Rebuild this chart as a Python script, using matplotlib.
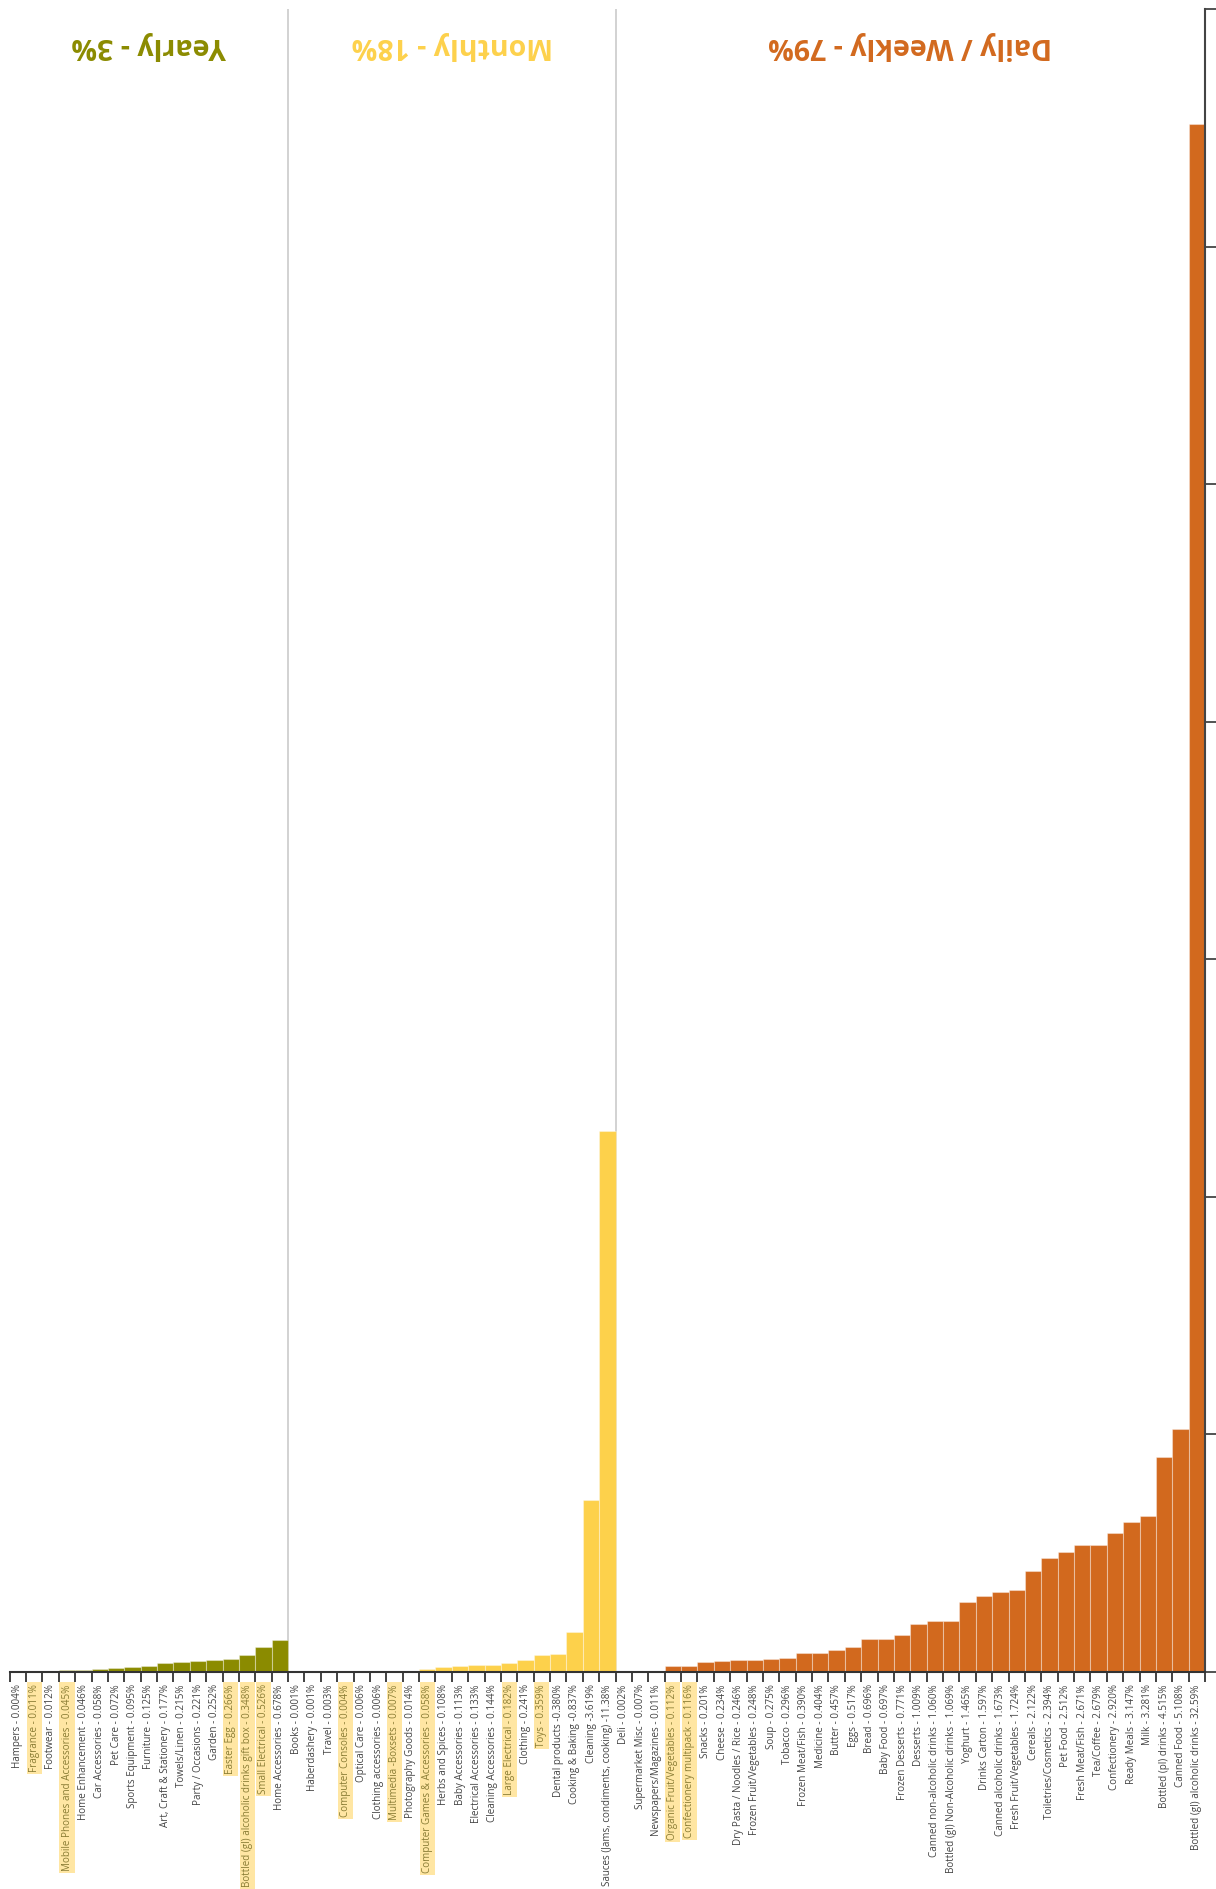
import matplotlib.pyplot as plt
import numpy as np

plt.rcParams['font.family'] = ['Open Sans', 'DejaVu Sans']

# data (share of spend, %)
yearly_names = ['Hampers', 'Fragrance', 'Footwear', 'Mobile Phones and Accessories',
                'Home Enhancement', 'Car Accessories', 'Pet Care', 'Sports Equipment',
                'Furniture', 'Art, Craft & Stationery', 'Towels/Linen', 'Party / Occasions',
                'Garden', 'Easter Egg', 'Bottled (gl) alcoholic drinks gift box',
                'Small Electrical', 'Home Accessories']
yearly_vals = [0.004, 0.011, 0.012, 0.045, 0.046, 0.058, 0.072, 0.095, 0.125, 0.177,
               0.215, 0.221, 0.252, 0.266, 0.348, 0.526, 0.678]
yearly_lbl = ['0.004%', '0.011%', '0.012%', '0.045%', '0.046%', '0.058%', '0.072%', '0.095%',
              '0.125%', '0.177%', '0.215%', '0.221%', '0.252%', '0.266%', '0.348%', '0.526%',
              '0.678%']

monthly_names = ['Books', 'Haberdashery', 'Travel', 'Computer Consoles', 'Optical Care',
                 'Clothing accessories', 'Multimedia -Boxsets', 'Photography Goods',
                 'Computer Games & Accessories', 'Herbs and Spices', 'Baby Accessories',
                 'Electrical Accessories', 'Cleaning Accessories', 'Large Electrical',
                 'Clothing', 'Toys', 'Dental products', 'Cooking & Baking', 'Cleaning',
                 'Sauces (Jams, condiments, cooking)']
monthly_vals = [0.001, 0.001, 0.003, 0.004, 0.006, 0.006, 0.007, 0.014, 0.058, 0.108,
                0.113, 0.133, 0.144, 0.182, 0.241, 0.359, 0.380, 0.837, 3.619, 11.38]
monthly_lbl = ['0.001%', '0.001%', '0.003%', '0.004%', '0.006%', '0.006%', '0.007%',
               '0.014%', '0.058%', '0.108%', '0.113%', '0.133%', '0.144%', '0.182%',
               '0.241%', '0.359%', '0.380%', '0.837%', '3.619%', '11.38%']
monthly_sep = [' - '] * 16 + [' -', ' -', ' -', ' -']

daily_names = ['Deli', 'Supermarket Misc', 'Newspapers/Magazines', 'Organic Fruit/Vegetables',
               'Confectionery multipack', 'Snacks', 'Cheese', 'Dry Pasta / Noodles / Rice',
               'Frozen Fruit/Vegetables', 'Soup', 'Tobacco', 'Frozen Meat/Fish', 'Medicine',
               'Butter', 'Eggs', 'Bread', 'Baby Food', 'Frozen Desserts', 'Desserts',
               'Canned non-alcoholic drinks', 'Bottled (gl) Non-Alcoholic drinks', 'Yoghurt',
               'Drinks Carton', 'Canned alcoholic drinks', 'Fresh Fruit/Vegetables', 'Cereals',
               'Toiletries/Cosmetics', 'Pet Food', 'Fresh Meat/Fish', 'Tea/Coffee',
               'Confectionery', 'Ready Meals', 'Milk', 'Bottled (pl) drinks', 'Canned Food',
               'Bottled (gl) alcoholic drinks']
daily_vals = [0.002, 0.007, 0.011, 0.112, 0.116, 0.201, 0.234, 0.246, 0.248, 0.275, 0.296,
              0.390, 0.404, 0.457, 0.517, 0.696, 0.697, 0.771, 1.009, 1.060, 1.069, 1.465,
              1.597, 1.673, 1.724, 2.122, 2.394, 2.512, 2.671, 2.679, 2.920, 3.147, 3.281,
              4.515, 5.108, 32.59]
daily_lbl = ['0.002%', '0.007%', '0.011%', '0.112%', '0.116%', '0.201%', '0.234%', '0.246%',
             '0.248%', '0.275%', '0.296%', '0.390%', '0.404%', '0.457%', '0.517%', '0.696%',
             '0.697%', '0.771%', '1.009%', '1.060%', '1.069%', '1.465%', '1.597%', '1.673%',
             '1.724%', '2.122%', '2.394%', '2.512%', '2.671%', '2.679%', '2.920%', '3.147%',
             '3.281%', '4.515%', '5.108%', '32.59%']

highlighted = ['Fragrance', 'Mobile Phones and Accessories', 'Easter Egg',
               'Bottled (gl) alcoholic drinks gift box', 'Small Electrical',
               'Computer Consoles', 'Multimedia -Boxsets', 'Computer Games & Accessories',
               'Large Electrical', 'Toys', 'Organic Fruit/Vegetables', 'Confectionery multipack']

groups = ['Yearly - 3%', 'Monthly - 18%', 'Daily / Weekly - 79%']
colors = ['#8b8b00', '#fdd14b', '#d2691e']

names = yearly_names + monthly_names + daily_names
vals = yearly_vals + monthly_vals + daily_vals
labels = ([n + ' - ' + v for n, v in zip(yearly_names, yearly_lbl)]
          + [n + s + v for n, s, v in zip(monthly_names, monthly_sep, monthly_lbl)]
          + [n + ' - ' + v for n, v in zip(daily_names, daily_lbl)])
sizes = [len(yearly_names), len(monthly_names), len(daily_names)]
bar_colors = []
for c, n in zip(colors, sizes):
    bar_colors += [c] * n

fig = plt.figure(figsize=(12.16, 18.89), dpi=100)
ax = fig.add_axes([0.008, 0.115, 0.983, 0.880])

x = np.arange(len(vals))
ax.bar(x, vals, width=1.0, color=bar_colors, edgecolor=(1, 1, 1, 0.35), linewidth=0.8)
ax.set_xlim(-0.5, len(vals) - 0.5)
ax.set_ylim(0, 35)

# group separators and headers
start = 0
for g, c, n in zip(groups, colors, sizes):
    end = start + n
    if end < len(vals):
        ax.axvline(end - 0.5, color='#cfcfcf', linewidth=1.3, zorder=0)
    ax.text((start + end - 1) / 2, 34.25, g, rotation=180, ha='center', va='center',
            fontsize=20.5, fontweight='bold', color=c)
    start = end

# axes styling
for s in ['top', 'left']:
    ax.spines[s].set_visible(False)
ax.spines['right'].set_color('#444444')
ax.spines['bottom'].set_color('#333333')
ax.spines['right'].set_linewidth(1.5)
ax.spines['bottom'].set_linewidth(1.5)
ax.yaxis.tick_right()
ax.set_yticks(np.arange(0, 36, 5))
ax.set_yticklabels([])
ax.tick_params(axis='y', length=8, width=1.3, color='#444444')

ax.set_xticks(x)
ax.set_xticklabels(labels, rotation=90, fontsize=7.1, color='#444444')
ax.tick_params(axis='x', length=0, pad=9)
ax.set_xticks(np.arange(len(vals) + 1) - 0.5, minor=True)
ax.tick_params(axis='x', which='minor', length=7, width=1.3, color='#333333')

for t, n in zip(ax.get_xticklabels(), names):
    if n in highlighted:
        t.set_color('#8a7d35')
        t.set_bbox(dict(facecolor='#ffe6a3', edgecolor='none', pad=1.5))

plt.savefig('out.png', dpi=100)
